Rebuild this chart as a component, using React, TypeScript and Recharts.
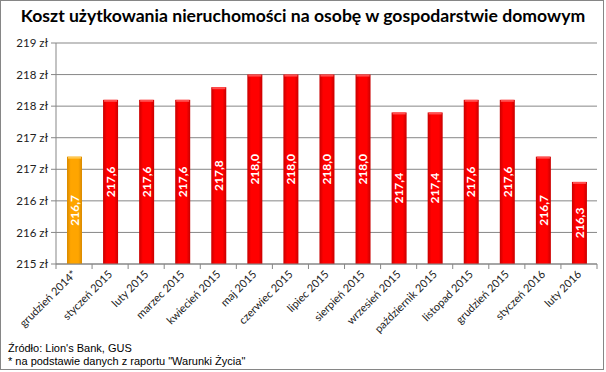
import { BarChart, Bar, XAxis, YAxis, CartesianGrid, Cell, LabelList } from 'recharts';

const categories = [
  'grudzień 2014*', 'styczeń 2015', 'luty 2015', 'marzec 2015', 'kwiecień 2015',
  'maj 2015', 'czerwiec 2015', 'lipiec 2015', 'sierpień 2015', 'wrzesień 2015',
  'październik 2015', 'listopad 2015', 'grudzień 2015', 'styczeń 2016', 'luty 2016',
];
const costs = [216.7, 217.6, 217.6, 217.6, 217.8, 218.0, 218.0, 218.0, 218.0, 217.4, 217.4, 217.6, 217.6, 216.7, 216.3];
const yTicks = [215, 215.5, 216, 216.5, 217, 217.5, 218, 218.5];

const data = categories.map((name, i) => ({ name, value: costs[i] }));

const FONT = 'Lato, "Open Sans", sans-serif';
const GRID = '#878787';

const BarShape = (props: any) => {
  const { x, y, width, height, index } = props;
  const first = index === 0;
  return (
    <g>
      <rect x={x} y={y} width={width} height={height} fill={first ? 'url(#gOrange)' : 'url(#gRed)'} />
      <rect x={x + 1} y={y} width={width - 2} height={2} fill={first ? '#ffc850' : '#ff5050'} />
    </g>
  );
};

const XTick = (props: any) => {
  const { x, y, payload, index } = props;
  const band = 541 / categories.length;
  return (
    <g>
      <line x1={x - band / 2} y1={y - 8} x2={x - band / 2} y2={y - 3} stroke={GRID} />
      {index === categories.length - 1 && (
        <line x1={x + band / 2} y1={y - 8} x2={x + band / 2} y2={y - 3} stroke={GRID} />
      )}
      <g transform={`translate(${x + 3},${y + 3}) rotate(-45)`}>
        <text x={0} y={0} textAnchor="end" fontSize={11} fontFamily={FONT} fill="#222">
          {payload.value}
        </text>
      </g>
    </g>
  );
};

const ValueLabel = (props: any) => {
  const { x, y, width, height, value } = props;
  const cx = x + width / 2;
  const cy = y + height / 2;
  return (
    <g transform={`translate(${cx},${cy}) rotate(-90)`}>
      <text
        x={0}
        y={0}
        dy="0.35em"
        fill="#fff"
        fontSize={12}
        fontWeight="bold"
        fontFamily={FONT}
        textAnchor="middle"
      >
        {value.toFixed(1).replace('.', ',')}
      </text>
    </g>
  );
};

export default function App() {
  return (
    <div style={{ position: 'absolute', left: 0, top: 0, width: 606, height: 372, background: '#fff' }}>
      <div
        style={{
          position: 'absolute', left: 0, top: 0, width: 604, height: 370,
          border: '1px solid #868686', boxSizing: 'border-box',
        }}
      />
      <div
        style={{
          position: 'absolute', left: 0, top: 5, width: 606, textAlign: 'center',
          fontFamily: FONT, fontWeight: 'bold', fontSize: 17.6, color: '#000',
        }}
      >
        Koszt użytkowania nieruchomości na osobę w gospodarstwie domowym
      </div>
      <BarChart
        width={606}
        height={372}
        data={data}
        margin={{ top: 43, right: 9, left: 0, bottom: 0 }}
        style={{ position: 'absolute', left: 0, top: 0 }}
      >
        <defs>
          <linearGradient id="gRed" x1="0" y1="0" x2="1" y2="0">
            <stop offset="0%" stopColor="#c80000" />
            <stop offset="25%" stopColor="#ff0000" />
            <stop offset="75%" stopColor="#ff0000" />
            <stop offset="100%" stopColor="#c80000" />
          </linearGradient>
          <linearGradient id="gOrange" x1="0" y1="0" x2="1" y2="0">
            <stop offset="0%" stopColor="#d98a00" />
            <stop offset="25%" stopColor="#ffa500" />
            <stop offset="75%" stopColor="#ffa500" />
            <stop offset="100%" stopColor="#d98a00" />
          </linearGradient>
        </defs>
        <CartesianGrid vertical={false} stroke={GRID} />
        <XAxis
          dataKey="name"
          interval={0}
          height={108}
          stroke={GRID}
          tickLine={false}
          tick={<XTick />}
        />
        <YAxis
          domain={[215, 218.5]}
          ticks={yTicks}
          interval={0}
          width={56}
          stroke={GRID}
          tickSize={5}
          tickMargin={3}
          tick={{ fontSize: 11.5, fontFamily: FONT, fill: '#222' }}
          tickFormatter={(v: number) => `${Math.round(v)} zł`}
          allowDataOverflow
        />
        <Bar dataKey="value" shape={<BarShape />} isAnimationActive={false} barSize={15}>
          {data.map((d) => (
            <Cell key={d.name} />
          ))}
          <LabelList dataKey="value" content={<ValueLabel />} />
        </Bar>
      </BarChart>
      <div
        style={{
          position: 'absolute', left: 8, top: 342, fontFamily: '"Liberation Sans", Arial, sans-serif',
          fontSize: 11, lineHeight: '13px', color: '#000',
        }}
      >
        <div>Źródło: Lion's Bank, GUS</div>
        <div>* na podstawie danych z raportu "Warunki Życia"</div>
      </div>
    </div>
  );
}
